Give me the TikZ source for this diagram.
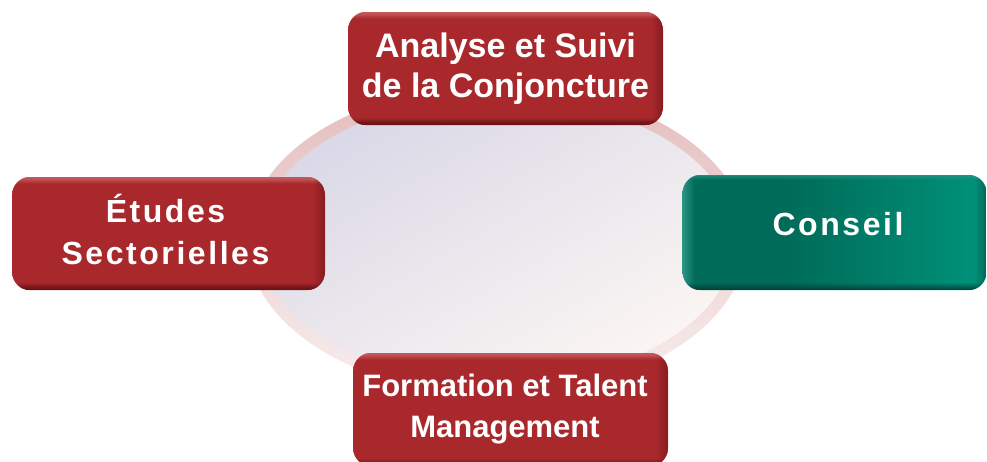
\documentclass[tikz,border=0pt]{standalone}
\usepackage{fontspec}
\setmainfont{Liberation Sans}
\usetikzlibrary{fadings}
\definecolor{rmain}{HTML}{A8282C}
\definecolor{rdark}{HTML}{6A1216}
\definecolor{rlight}{HTML}{C4585B}
\definecolor{gmain}{HTML}{006B58}
\definecolor{gdark}{HTML}{003F34}
\definecolor{glight}{HTML}{2A9583}
\definecolor{gright}{HTML}{00937B}
\definecolor{ringtop}{HTML}{E4BDBD}
\definecolor{ringbot}{HTML}{F8EEEE}
\definecolor{lav}{HTML}{DAD8E7}
\definecolor{peach}{HTML}{FBF6F3}
\pgfdeclareverticalshading{redv}{100bp}{color(0bp)=(rdark); color(25bp)=(rdark); color(27.5bp)=(rmain); color(72bp)=(rmain); color(75bp)=(rlight); color(100bp)=(rlight)}
\pgfdeclarehorizontalshading{greenh}{100bp}{color(0bp)=(glight); color(25bp)=(glight); color(27bp)=(gmain); color(42bp)=(gmain); color(75bp)=(gright); color(100bp)=(gright)}
\tikzfading[name=fadebottom, top color=transparent!100, bottom color=transparent!0]
\tikzfading[name=fadetop, top color=transparent!0, bottom color=transparent!100]
\tikzfading[name=faderight, left color=transparent!100, right color=transparent!0]
\tikzset{
  tilebox/.style={rounded corners=18pt, minimum width=315, minimum height=113, inner sep=0pt},
  redtile/.style={tilebox, shading=redv},
  greentile/.style={tilebox, shading=greenh},
  tiletext/.style={text=white, align=center, inner sep=0pt},
}
\newcommand{\rimoverlay}[3]{% node, dark colour, light colour
  \begin{scope}
    \clip[rounded corners=18pt] (#1.south west) rectangle (#1.north east);
    \fill[#2, opacity=0.55, path fading=faderight] ([xshift=-12pt]#1.north east) rectangle (#1.south east);
    \fill[#2, path fading=fadebottom] ([yshift=8pt]#1.south west) rectangle (#1.south east);
    \fill[#3, opacity=0.8, path fading=fadetop] (#1.north west) rectangle ([yshift=-5pt]#1.north east);
  \end{scope}}
\begin{document}
\begin{tikzpicture}[x=1pt, y=-1pt]
\useasboundingbox (0,0) rectangle (987,461);
\begin{scope}
\clip (0,0) rectangle (987,461);
% background ellipse
\shade[top color=ringtop, bottom color=ringbot] (497,240) ellipse [x radius=250, y radius=155];
\shade[top color=lav, bottom color=peach, shading angle=30] (497,240) ellipse [x radius=238, y radius=143];
% tiles
\node[redtile] (ana) at (505.5,68.5) {};
\rimoverlay{ana}{rdark}{rlight}
\node[tiletext, font=\bfseries\fontsize{34}{40}\selectfont] (anat) at (505.5,68.5) {Analyse et Suivi\\de la Conjoncture};
\node[redtile, minimum width=313] (etu) at (168.5,233.5) {};
\rimoverlay{etu}{rdark}{rlight}
\node[tiletext, font=\bfseries\fontsize{32}{42}\selectfont] (etut) at (165.5,229) {\addfontfeature{LetterSpace=8}Études\\\addfontfeature{LetterSpace=8}Sectorielles};
\node[greentile, minimum width=304, minimum height=115] (con) at (834.5,232.5) {};
\rimoverlay{con}{gdark}{glight}
\node[tiletext, font=\bfseries\fontsize{32}{41}\selectfont] (cont) at (838,224) {\addfontfeature{LetterSpace=8}Conseil};
\node[redtile] (for) at (510.5,409.5) {};
\rimoverlay{for}{rdark}{rlight}
\node[tiletext, font=\bfseries\fontsize{31}{41}\selectfont] (fort) at (505,409.5) {Formation et Talent\\Management};
\end{scope}
\end{tikzpicture}
\end{document}
